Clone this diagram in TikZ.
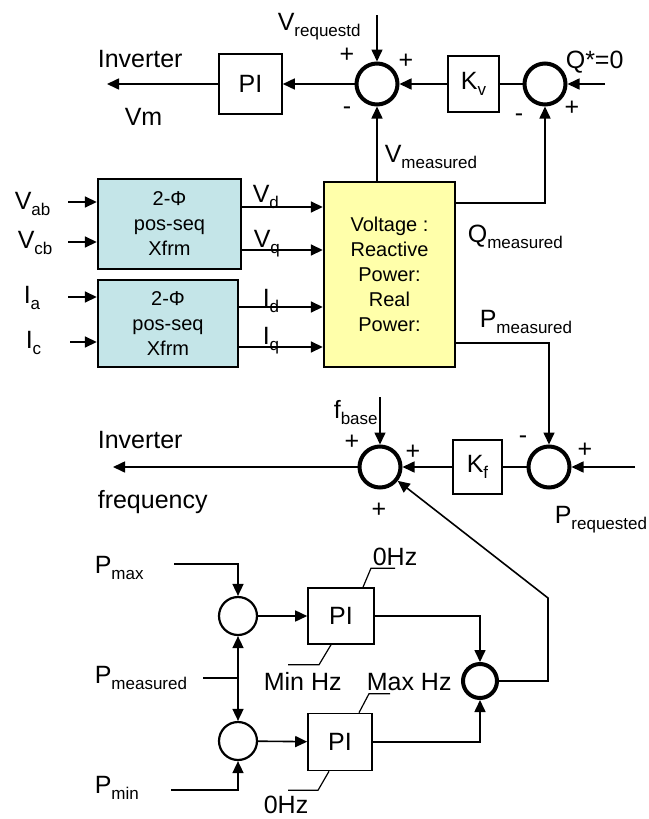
\documentclass[tikz,border=0pt]{standalone}
\usepackage{fontspec}
\setmainfont{Liberation Sans}
\usetikzlibrary{arrows.meta,positioning,calc}

\definecolor{xfrmblue}{RGB}{196,229,232}
\definecolor{calcyellow}{RGB}{255,255,170}
\newcommand{\lo}[1]{\raisebox{-6pt}{\fontsize{17}{17}\selectfont #1}}

\begin{document}
\begin{tikzpicture}[x=1pt,y=-1pt, line width=1.6pt, >={Triangle[length=12pt,width=11pt]},
  every node/.style={font=\fontsize{25}{27}\selectfont, inner sep=0pt},
  lbl/.style={anchor=base west},
  sumth/.style={circle,draw,line width=4pt,minimum size=41pt},
  sumtn/.style={circle,draw,line width=2.2pt,minimum size=38pt},
  blk/.style={draw,line width=1.6pt},
  xfrm/.style={draw,line width=2.4pt,fill=xfrmblue,align=center,font=\fontsize{20}{25}\selectfont},
  lead/.style={line width=1.2pt}]
\useasboundingbox (0,0) rectangle (648,819);

% voltage loop
\node[blk,minimum width=63,minimum height=60] (pitop) at (250.5,84) {PI};
\node[sumth] (sum1) at (377,84) {};
\node[blk,minimum width=51,minimum height=56] (kv) at (473.5,84) {K\lo{v}};
\node[sumth] (sum2) at (545,84) {};
\coordinate (qin) at (605,84);
\coordinate (vreqin) at (377,15);
\coordinate (vmout) at (107,84);
\draw[->] (qin) -- (sum2);
\draw (sum2) -- (kv);
\draw[->] (kv) -- (sum1);
\draw[->] (sum1) -- (pitop);
\draw[->] (pitop) -- (vmout);
\draw[->] (vreqin) -- (sum1);
\node[lbl] (invv) at (97,67) {Inverter};
\node[lbl] (vm) at (124,125) {Vm};
\node[lbl] (vreq) at (277,30) {V\lo{requestd}};
\node (s1a) at (347,55) {+};
\node (s1b) at (406,61) {+};
\node (s1c) at (347,111) {-};
\node (s2a) at (572,108) {+};
\node (s2b) at (519,118) {-};
\node[lbl] (qref) at (565,68) {Q*=0};

% measurement blocks
\node[xfrm,minimum width=143,minimum height=90] (xf1) at (169.5,224) {2-Φ\\pos-seq\\Xfrm};
\node[xfrm,minimum width=140,minimum height=87] (xf2) at (168,323.5) {2-Φ\\pos-seq\\Xfrm};
\node[draw,line width=2.4pt,fill=calcyellow,minimum width=131,minimum height=185,align=center,
  font=\fontsize{20}{25}\selectfont] (meas) at (389.5,274.5) {Voltage :\\Reactive\\Power:\\Real\\Power:};
\coordinate (vabin) at (68,202);
\coordinate (vcbin) at (68,242);
\coordinate (iain) at (68,297);
\coordinate (icin) at (70,342);
\draw[->] (vabin) -- (vabin -| xf1.west);
\draw[->] (vcbin) -- (vcbin -| xf1.west);
\draw[->] (iain) -- (iain -| xf2.west);
\draw[->] (icin) -- (icin -| xf2.west);
\draw[->] (xf1.east |- 0,207) -- (meas.west |- 0,207);
\draw[->] (xf1.east |- 0,250) -- (meas.west |- 0,250);
\draw[->] (xf2.east |- 0,307) -- (meas.west |- 0,307);
\draw[->] (xf2.east |- 0,347) -- (meas.west |- 0,347);
\node[lbl] (vab) at (14,209) {V\lo{ab}};
\node[lbl] (vcb) at (17,248) {V\lo{cb}};
\node[lbl] (ia) at (23,303) {I\lo{a}};
\node[lbl] (ic) at (25,348) {I\lo{c}};
\node[lbl] (vd) at (252,202) {V\lo{d}};
\node[lbl] (vq) at (253,247) {V\lo{q}};
\node[lbl] (id) at (262,306) {I\lo{d}};
\node[lbl] (iq) at (262,344) {I\lo{q}};
\draw[->] (sum1 |- meas.north) -- (sum1.south);
\draw[->] ([yshift=71.5pt]meas.east) -| (sum2.south);
\node[lbl] (vmeas) at (384,162) {V\lo{measured}};
\node[lbl] (qmeas) at (467,242) {Q\lo{measured}};
\node[lbl] (pmeas) at (479,327) {P\lo{measured}};

% frequency loop
\node[sumth] (sum3) at (380,467) {};
\node[blk,minimum width=49,minimum height=54] (kf) at (477.5,467) {K\lo{f}};
\node[sumth] (sum4) at (549,467) {};
\coordinate (fbin) at (380,397);
\coordinate (prin) at (635,467);
\coordinate (freqout) at (113,467);
\draw[->] ([yshift=-68.5pt]meas.east) -| (sum4.north);
\draw[->] (prin) -- (sum4);
\draw (sum4) -- (kf);
\draw[->] (kf) -- (sum3);
\draw[->] (sum3) -- (freqout);
\draw[->] (fbin) -- (sum3);
\node[lbl] (fbase) at (333,418) {f\lo{base}};
\node (s3a) at (352,442) {+};
\node (s3b) at (413,452) {+};
\node (s3c) at (379,510) {+};
\node (s4a) at (523,440) {-};
\node (s4b) at (585,450) {+};
\node[lbl] (invf) at (97,448) {Inverter};
\node[lbl] (freq) at (97,508) {frequency};
\node[lbl] (preq) at (554,523) {P\lo{requested}};

% power limits
\node[sumtn] (sum5) at (238,616) {};
\node[sumtn] (sum6) at (238,741) {};
\node[blk,minimum width=66,minimum height=56] (pimax) at (341,616) {PI};
\node[blk,minimum width=64,minimum height=57] (pimin) at (340,742) {PI};
\node[sumth,minimum size=34pt] (sum7) at (480,681) {};
\coordinate (pmaxin) at (174,564);
\coordinate (pmsin) at (203,678);
\coordinate (pminin) at (171,790);
\coordinate (fbk) at (548,598);
\draw[->] (pmaxin) -| (sum5.north);
\draw[->] (pminin) -| (sum6.south);
\draw (pmsin) -- (pmsin -| sum5);
\draw[<->] (sum5) -- (sum6);
\draw[->] (sum5) -- (pimax);
\draw[->] (sum6) -- (pimin);
\draw[->] (pimax.east) -| (sum7.north);
\draw[->] (pimin.east) -| (sum7.south);
\draw[->] (sum7.east) -| (fbk) -- (sum3);
\draw[lead] ([xshift=22pt]pimax.north) -- ++(8,-19) -- ++(24,0);
\draw[lead] ([xshift=-10pt]pimax.south) -- ++(-12,20) -- ++(-31,0);
\draw[lead] ([xshift=19pt]pimin.north) -- ++(10,-19) -- ++(21,0);
\draw[lead] ([xshift=-11pt]pimin.south) -- ++(-11,19) -- ++(-30,0);
\node[lbl] (pmax) at (94,573) {P\lo{max}};
\node[lbl] (pmeas2) at (94,683) {P\lo{measured}};
\node[lbl] (pmin) at (94,793) {P\lo{min}};
\node[lbl] (hz0a) at (372,565) {0Hz};
\node[lbl] (minhz) at (263,690) {Min Hz};
\node[lbl] (maxhz) at (366,690) {Max Hz};
\node[lbl] (hz0b) at (263,813) {0Hz};
\end{tikzpicture}
\end{document}
